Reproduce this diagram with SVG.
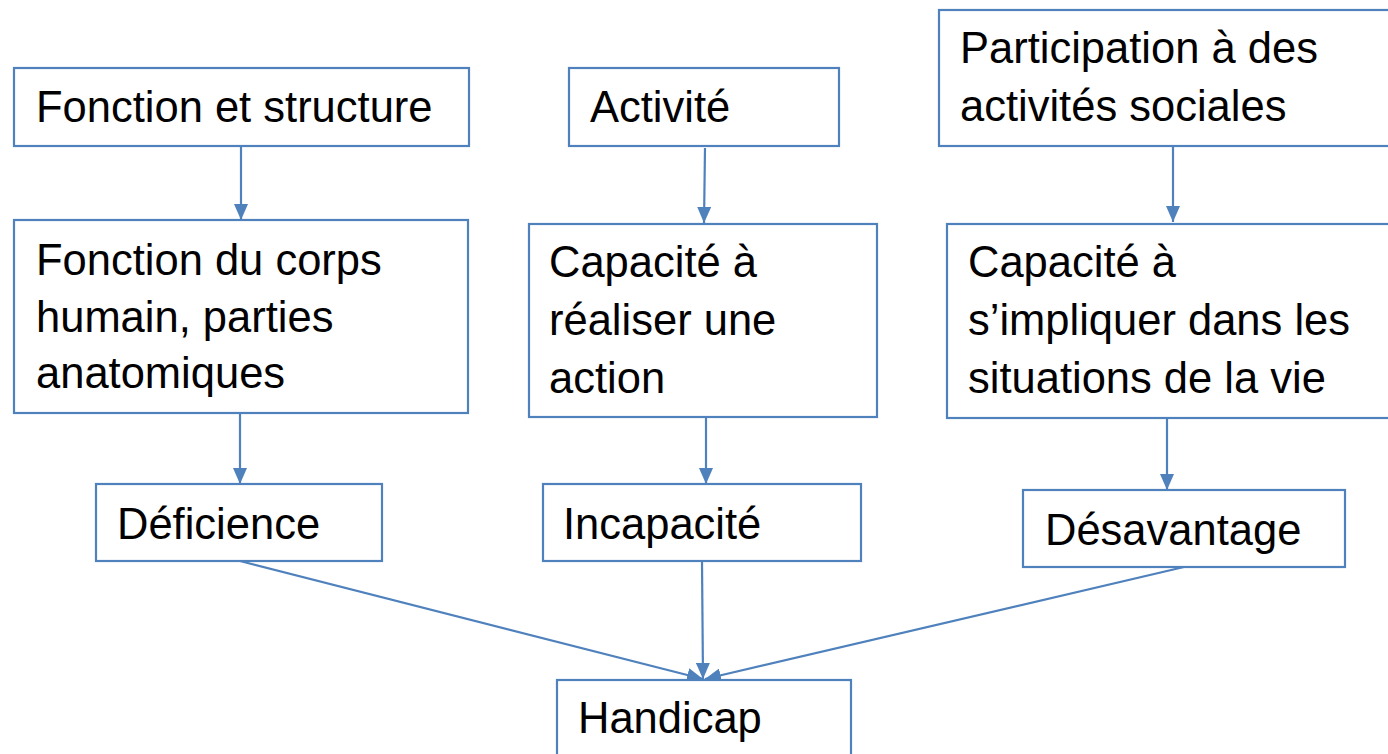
<svg xmlns="http://www.w3.org/2000/svg" width="1388" height="754" viewBox="0 0 1388 754">
<defs>
<style>
.box{fill:#fff;stroke:#4f81bd;stroke-width:2.2}
.t{font-family:"Liberation Sans",Arial,sans-serif;font-size:43.5px;fill:#000}
.c{stroke:#4f81bd;stroke-width:2.2;fill:none;marker-end:url(#ah)}
</style>
<marker id="ah" viewBox="0 0 16 14" refX="16" refY="7" markerWidth="16" markerHeight="14" markerUnits="userSpaceOnUse" orient="auto">
<path d="M0,0 L16,7 L0,14 z" fill="#4f81bd"/>
</marker>
</defs>
<rect width="1388" height="754" fill="#fff"/>
<g id="connectors">
<line class="c" x1="241" y1="146" x2="241" y2="220"/>
<line class="c" x1="240" y1="410" x2="240" y2="484"/>
<line class="c" x1="705" y1="148" x2="704" y2="223"/>
<line class="c" x1="706" y1="412" x2="706" y2="484"/>
<line class="c" x1="1173" y1="146" x2="1173" y2="222"/>
<line class="c" x1="1167" y1="417" x2="1167" y2="490"/>
<line class="c" x1="240" y1="561" x2="703" y2="679"/>
<line class="c" x1="702" y1="562" x2="703" y2="679"/>
<line class="c" x1="1184" y1="567" x2="705" y2="679"/>
</g>
<g id="n1"><rect class="box" x="14" y="68" width="455" height="78"/><text class="t" x="36" y="122">Fonction et structure</text></g>
<g id="n2"><rect class="box" x="14" y="220" width="454" height="193"/><text class="t" x="36" y="275">Fonction du corps</text><text class="t" x="36" y="332">humain, parties</text><text class="t" x="36" y="388">anatomiques</text></g>
<g id="n3"><rect class="box" x="96" y="484" width="286" height="77"/><text class="t" x="117" y="539">Déficience</text></g>
<g id="n4"><rect class="box" x="569" y="68" width="270" height="78"/><text class="t" x="590" y="122">Activité</text></g>
<g id="n5"><rect class="box" x="529" y="224" width="348" height="193"/><text class="t" x="549" y="277">Capacité à</text><text class="t" x="549" y="335">réaliser une</text><text class="t" x="549" y="393">action</text></g>
<g id="n6"><rect class="box" x="543" y="484" width="318" height="77"/><text class="t" x="563" y="539">Incapacité</text></g>
<g id="n7"><rect class="box" x="939" y="10" width="460" height="136"/><text class="t" x="960" y="63">Participation à des</text><text class="t" x="960" y="121">activités sociales</text></g>
<g id="n8"><rect class="box" x="947" y="224" width="452" height="194"/><text class="t" x="968" y="277">Capacité à</text><text class="t" x="968" y="335">s’impliquer dans les</text><text class="t" x="968" y="393">situations de la vie</text></g>
<g id="n9"><rect class="box" x="1023" y="490" width="322" height="77"/><text class="t" x="1045" y="545">Désavantage</text></g>
<g id="n10"><rect class="box" x="557" y="680" width="294" height="90"/><text class="t" x="578" y="733">Handicap</text></g>
</svg>
